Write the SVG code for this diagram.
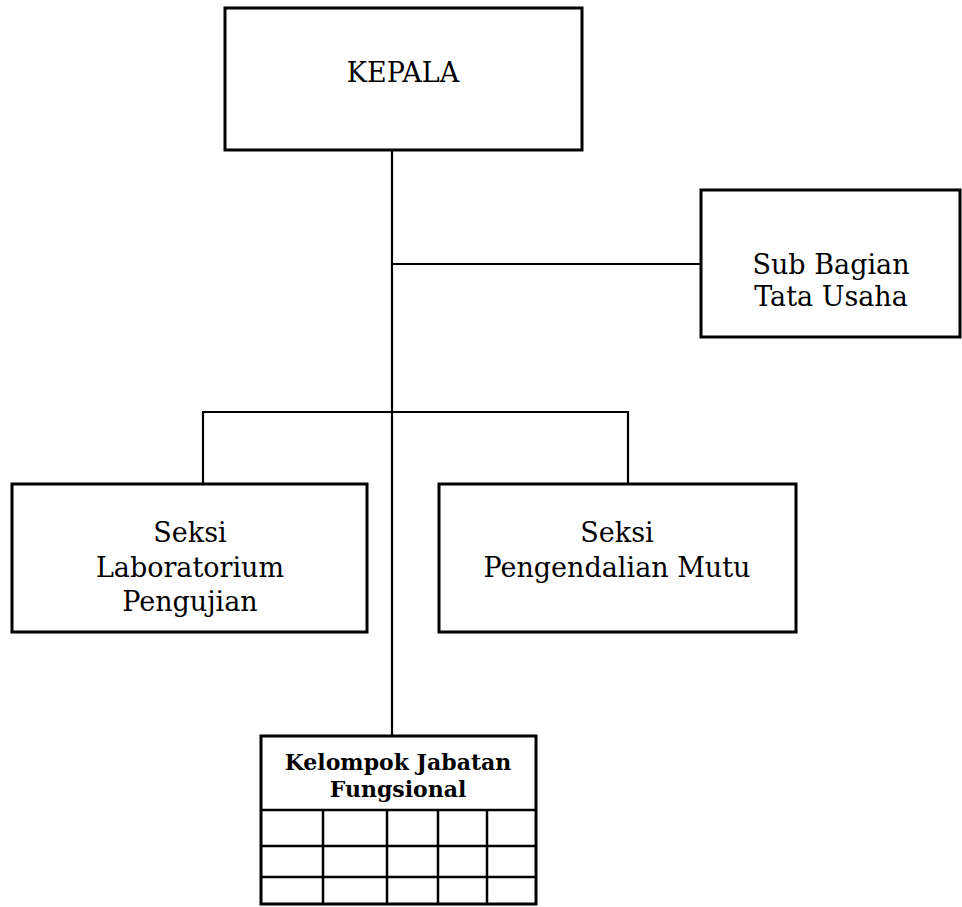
<svg xmlns="http://www.w3.org/2000/svg" width="962" height="907" viewBox="0 0 962 907">
<style>
.box{fill:#fff;stroke:#000;stroke-width:3}
.ln{fill:none;stroke:#000;stroke-width:2.2}
.grid{fill:none;stroke:#000;stroke-width:2.5}
.t{font-family:"DejaVu Serif","Liberation Serif",serif;font-size:27px;fill:#000;text-anchor:middle}
.tb{font-family:"DejaVu Serif","Liberation Serif",serif;font-size:22px;font-weight:bold;fill:#000;text-anchor:middle}
</style>
<rect width="962" height="907" fill="#fff"/>
<g id="connectors">
<line class="ln" x1="392" y1="150" x2="392" y2="736"/>
<line class="ln" x1="392" y1="264" x2="701" y2="264"/>
<polyline class="ln" points="203,484 203,412 628,412 628,484"/>
</g>
<g id="kepala">
<rect class="box" x="225" y="8" width="357" height="142"/>
<text class="t" x="403" y="82">KEPALA</text>
</g>
<g id="sub-bagian">
<rect class="box" x="701" y="190" width="259" height="147"/>
<text class="t" x="831" y="274">Sub Bagian</text>
<text class="t" x="831" y="306">Tata Usaha</text>
</g>
<g id="seksi-lab">
<rect class="box" x="12" y="484" width="355" height="148"/>
<text class="t" x="190" y="542">Seksi</text>
<text class="t" x="190" y="577">Laboratorium</text>
<text class="t" x="190" y="611">Pengujian</text>
</g>
<g id="seksi-mutu">
<rect class="box" x="439" y="484" width="357" height="148"/>
<text class="t" x="617" y="542">Seksi</text>
<text class="t" x="617" y="577">Pengendalian Mutu</text>
</g>
<g id="kelompok">
<rect class="box" x="261" y="736" width="275" height="168"/>
<text class="tb" x="398" y="770">Kelompok Jabatan</text>
<text class="tb" x="398" y="797">Fungsional</text>
<line class="grid" x1="261" y1="810" x2="536" y2="810"/>
<line class="grid" x1="261" y1="846" x2="536" y2="846"/>
<line class="grid" x1="261" y1="877" x2="536" y2="877"/>
<line class="grid" x1="323" y1="810" x2="323" y2="904"/>
<line class="grid" x1="387" y1="810" x2="387" y2="904"/>
<line class="grid" x1="438" y1="810" x2="438" y2="904"/>
<line class="grid" x1="487" y1="810" x2="487" y2="904"/>
</g>
</svg>
